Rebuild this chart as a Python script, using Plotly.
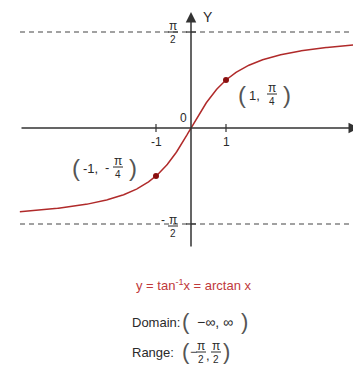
import numpy as np
import plotly.graph_objects as go

# chart data
curve_x = np.linspace(-4.89, 4.89, 400)
curve_y = np.arctan(curve_x)
point_x = [-1, 1]
point_y = [np.arctan(v) for v in point_x]
asymptotes = [np.pi / 2, -np.pi / 2]
tick_x = [-1, 1]
tick_x_labels = ["-1", "1"]

# page pixel -> data helpers (origin at 191,128 on the page)
# the html body has an 8px margin, so the figure starts at page pixel 8
OFF = 8
X0, SX = 191, 35.0
Y0, SY = 128, 61.1
W, H = 361 - OFF, 371 - OFF


def px(v):
    return (v - X0) / SX


def py(v):
    return (Y0 - v) / SY


FONT = "Liberation Sans, Arial, sans-serif"
TXT = "#2a2a2a"
RED = "#b02a2a"

fig = go.Figure()
annotations = []
shapes = []


def text(xp, yp, s, size=12, color=TXT, xanchor="center"):
    annotations.append(dict(x=px(xp), y=py(yp), text=s, showarrow=False,
                            xanchor=xanchor, yanchor="middle",
                            font=dict(family=FONT, size=size, color=color)))


def frac(xp, yp, num, den, size=12, w=10, color=TXT):
    text(xp, yp - 6, num, size, color)
    text(xp, yp + 7, den, size - 2, color)
    shapes.append(dict(type="line", x0=px(xp - w / 2), x1=px(xp + w / 2),
                       y0=py(yp), y1=py(yp), line=dict(color=color, width=1)))


# asymptotes
for a in asymptotes:
    shapes.append(dict(type="line", x0=px(20), x1=px(361), y0=a, y1=a,
                       line=dict(color="#444444", width=1.2, dash="5px,4px")))

# axes with arrowheads
annotations.append(dict(x=px(359), y=0, ax=px(20), ay=0, axref="x", ayref="y",
                        text="", showarrow=True, arrowhead=2, arrowsize=1.4,
                        arrowwidth=1.5, arrowcolor="#333333", standoff=0))
annotations.append(dict(x=0, y=py(12), ax=0, ay=py(248), axref="x", ayref="y",
                        text="", showarrow=True, arrowhead=2, arrowsize=1.4,
                        arrowwidth=1.5, arrowcolor="#333333", standoff=0))

# tick marks
for t in tick_x:
    shapes.append(dict(type="line", x0=t, x1=t, y0=py(124), y1=py(132),
                       line=dict(color="#333333", width=1.2)))
for a in asymptotes:
    shapes.append(dict(type="line", x0=px(186), x1=px(196), y0=a, y1=a,
                       line=dict(color="#333333", width=1.2)))

# curve and points
fig.add_trace(go.Scatter(x=curve_x, y=curve_y, mode="lines",
                         line=dict(color=RED, width=1.5), hoverinfo="skip"))
fig.add_trace(go.Scatter(x=point_x, y=point_y, mode="markers",
                         marker=dict(color="#8b1010", size=6)))

# axis labels
for t, lab in zip(tick_x, tick_x_labels):
    annotations.append(dict(x=t, y=py(142), text=lab, showarrow=False,
                            font=dict(family=FONT, size=12, color=TXT)))
text(183, 118, "0", 12)
text(208, 17, "Y", 14)
text(362, 114, "X", 14)
frac(173, 32, "π", "2")
text(163, 220, "-", 12)
frac(173, 226, "π", "2")

# point labels
text(242, 94, "(", 24, "#555555")
text(254, 95, "1,", 13)
frac(272, 94, "π", "4")
text(287, 94, ")", 24, "#555555")

text(76, 167, "(", 24, "#555555")
text(90, 168, "-1,", 13)
text(107, 167, "-", 13)
frac(118, 167, "π", "4")
text(133, 167, ")", 24, "#555555")

# captions
text(194, 285, "y = tan<sup>-1</sup>x = arctan x", 13, "#c0393b")
text(130, 322, "Domain:", 13, xanchor="left")
text(186, 321, "(", 22, "#555555")
text(215, 322, "−∞, ∞", 14)
text(244, 321, ")", 22, "#555555")
text(130, 352, "Range:", 13, xanchor="left")
text(186, 351, "(", 22, "#555555")
text(193, 352, "−", 12)
frac(201, 352, "π", "2")
text(208, 355, ",", 13)
frac(216, 352, "π", "2")
text(226, 351, ")", 22, "#555555")

fig.update_layout(
    width=W, height=H, autosize=False,
    margin=dict(l=0, r=0, t=0, b=0),
    paper_bgcolor="white", plot_bgcolor="white",
    showlegend=False,
    xaxis=dict(range=[px(OFF), px(OFF + W)], visible=False, fixedrange=True),
    yaxis=dict(range=[py(OFF + H), py(OFF)], visible=False, fixedrange=True),
    annotations=annotations, shapes=shapes,
)
fig.write_html("out.html")
